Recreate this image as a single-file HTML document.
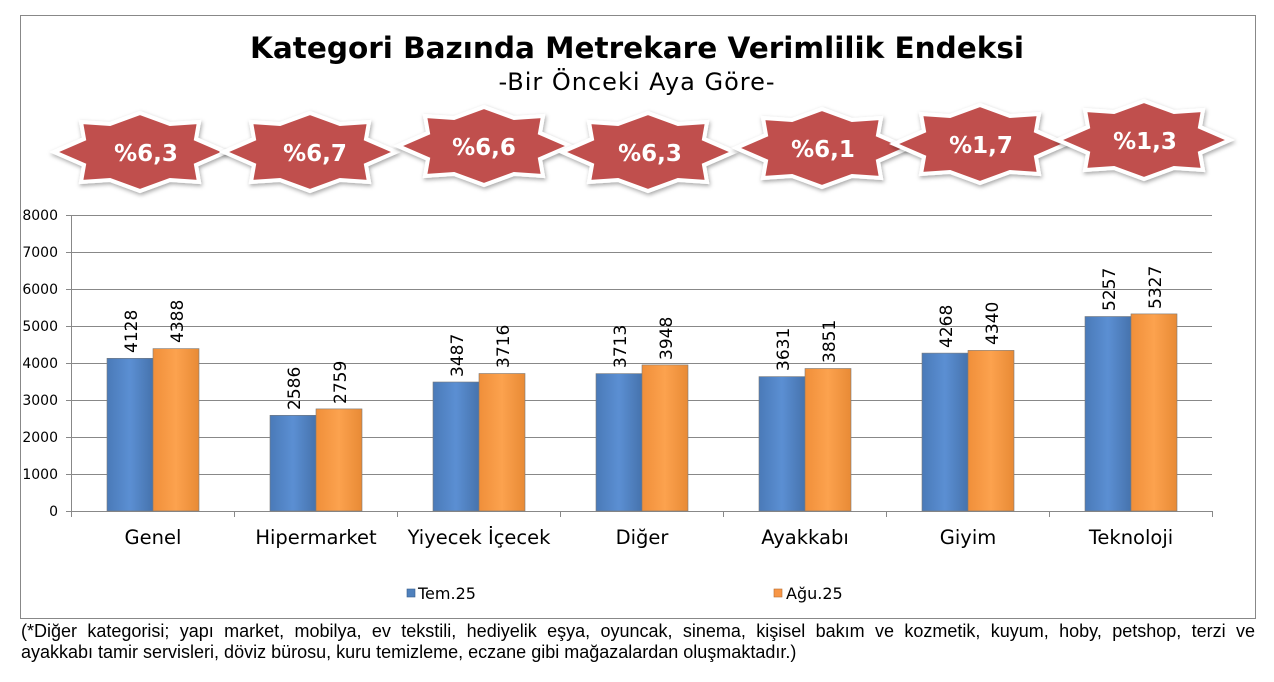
<!DOCTYPE html>
<html><head><meta charset="utf-8"><style>
body{margin:0;background:#fff;width:1274px;height:682px;overflow:hidden;}
svg{position:absolute;left:0;top:0;}
.fn{position:absolute;left:21px;width:1234px;font:18px "Liberation Sans",sans-serif;color:#000;line-height:21px;white-space:nowrap;}
.l1{top:621px;text-align:justify;text-align-last:justify;white-space:normal;}
.l2{top:642px;}
</style></head><body>
<svg width="1274" height="682" xmlns="http://www.w3.org/2000/svg" font-family="DejaVu Sans, Liberation Sans, sans-serif">
<defs>
<linearGradient id="gb" x1="0" x2="1"><stop offset="0" stop-color="#4a7ab8"/><stop offset="0.5" stop-color="#5b8fd3"/><stop offset="1" stop-color="#4673ad"/></linearGradient>
<linearGradient id="go" x1="0" x2="1"><stop offset="0" stop-color="#f08f3a"/><stop offset="0.5" stop-color="#fca24e"/><stop offset="1" stop-color="#e88a35"/></linearGradient>
<filter id="sh" x="-20%" y="-30%" width="140%" height="160%"><feDropShadow dx="1" dy="2" stdDeviation="2" flood-color="#000" flood-opacity="0.35"/></filter>
<g id="star"><polygon points="-86,0 -56,-13 -59,-30 -30,-28 0,-39 30,-28 59,-30 56,-13 86,0 56,13 59,30 30,28 0,39 -30,28 -59,30 -56,13" fill="#c0504d" stroke="#fff" stroke-width="4" stroke-linejoin="miter" filter="url(#sh)"/></g>
</defs>
<rect x="20.5" y="15.5" width="1235" height="603" fill="#fff" stroke="#888" stroke-width="1"/>
<text x="637" y="58" text-anchor="middle" font-size="29.5" font-weight="bold" fill="#000">Kategori Bazında Metrekare Verimlilik Endeksi</text>
<text x="637" y="90" text-anchor="middle" font-size="24" letter-spacing="1" fill="#000">-Bir Önceki Aya Göre-</text>
<g font-size="23" font-weight="bold" fill="#fff" text-anchor="middle">
<use href="#star" x="140" y="152"/><text x="146" y="161">%6,3</text>
<use href="#star" x="310" y="152"/><text x="315" y="161">%6,7</text>
<use href="#star" x="484" y="146"/><text x="484" y="155">%6,6</text>
<use href="#star" x="648" y="152"/><text x="650" y="161">%6,3</text>
<use href="#star" x="822" y="148"/><text x="823" y="157">%6,1</text>
<use href="#star" x="980" y="144"/><text x="981" y="153">%1,7</text>
<use href="#star" x="1144" y="140"/><text x="1145" y="149">%1,3</text>
</g>
<g stroke="#888" stroke-width="1">
<line x1="66" y1="215.5" x2="1212" y2="215.5"/><line x1="66" y1="252.5" x2="1212" y2="252.5"/>
<line x1="66" y1="289.5" x2="1212" y2="289.5"/><line x1="66" y1="326.5" x2="1212" y2="326.5"/>
<line x1="66" y1="363.5" x2="1212" y2="363.5"/><line x1="66" y1="400.5" x2="1212" y2="400.5"/>
<line x1="66" y1="437.5" x2="1212" y2="437.5"/><line x1="66" y1="474.5" x2="1212" y2="474.5"/>
<line x1="66" y1="511.5" x2="1212" y2="511.5"/>
<line x1="71.5" y1="215" x2="71.5" y2="517"/>
<line x1="234.5" y1="511" x2="234.5" y2="517"/><line x1="397.5" y1="511" x2="397.5" y2="517"/>
<line x1="560.5" y1="511" x2="560.5" y2="517"/><line x1="723.5" y1="511" x2="723.5" y2="517"/>
<line x1="886.5" y1="511" x2="886.5" y2="517"/><line x1="1049.5" y1="511" x2="1049.5" y2="517"/>
<line x1="1212.5" y1="511" x2="1212.5" y2="517"/>
</g>
<g font-size="14" fill="#000" text-anchor="end">
<text x="58" y="220">8000</text><text x="58" y="257">7000</text><text x="58" y="294">6000</text>
<text x="58" y="331">5000</text><text x="58" y="368">4000</text><text x="58" y="405">3000</text>
<text x="58" y="442">2000</text><text x="58" y="479">1000</text><text x="58" y="516">0</text>
</g>
<g stroke="#7a7a7a" stroke-width="0.6">
<rect x="107" y="358.3" width="46" height="152.7" fill="url(#gb)"/><rect x="153" y="348.6" width="46" height="162.4" fill="url(#go)"/>
<rect x="270" y="415.3" width="46" height="95.7" fill="url(#gb)"/><rect x="316" y="408.9" width="46" height="102.1" fill="url(#go)"/>
<rect x="433" y="382" width="46" height="129" fill="url(#gb)"/><rect x="479" y="373.5" width="46" height="137.5" fill="url(#go)"/>
<rect x="596" y="373.6" width="46" height="137.4" fill="url(#gb)"/><rect x="642" y="364.9" width="46" height="146.1" fill="url(#go)"/>
<rect x="759" y="376.6" width="46" height="134.4" fill="url(#gb)"/><rect x="805" y="368.5" width="46" height="142.5" fill="url(#go)"/>
<rect x="922" y="353.1" width="46" height="157.9" fill="url(#gb)"/><rect x="968" y="350.4" width="46" height="160.6" fill="url(#go)"/>
<rect x="1085" y="316.5" width="46" height="194.5" fill="url(#gb)"/><rect x="1131" y="313.9" width="46" height="197.1" fill="url(#go)"/>
</g>
<g font-size="17" fill="#000">
<text transform="translate(137,353) rotate(-90)">4128</text><text transform="translate(183,343) rotate(-90)">4388</text>
<text transform="translate(300,410) rotate(-90)">2586</text><text transform="translate(346,404) rotate(-90)">2759</text>
<text transform="translate(463,377) rotate(-90)">3487</text><text transform="translate(509,368) rotate(-90)">3716</text>
<text transform="translate(626,368) rotate(-90)">3713</text><text transform="translate(672,360) rotate(-90)">3948</text>
<text transform="translate(789,371) rotate(-90)">3631</text><text transform="translate(835,363) rotate(-90)">3851</text>
<text transform="translate(952,348) rotate(-90)">4268</text><text transform="translate(998,345) rotate(-90)">4340</text>
<text transform="translate(1115,311) rotate(-90)">5257</text><text transform="translate(1161,309) rotate(-90)">5327</text>
</g>
<g font-size="19.5" fill="#000" text-anchor="middle">
<text x="153" y="544">Genel</text><text x="316" y="544">Hipermarket</text><text x="479" y="544">Yiyecek İçecek</text>
<text x="642" y="544">Diğer</text><text x="805" y="544">Ayakkabı</text><text x="968" y="544">Giyim</text><text x="1131" y="544">Teknoloji</text>
</g>
<rect x="407" y="589" width="8" height="8" fill="#4f81bd" stroke="#385d8a" stroke-width="0.6"/>
<text x="418" y="599" font-size="16" fill="#000">Tem.25</text>
<rect x="774" y="589" width="8" height="8" fill="#f79646" stroke="#b66d31" stroke-width="0.6"/>
<text x="786" y="599" font-size="16" fill="#000">Ağu.25</text>
</svg>
<div class="fn l1">(*Diğer kategorisi; yapı market, mobilya, ev tekstili, hediyelik eşya, oyuncak, sinema, kişisel bakım ve kozmetik, kuyum, hoby, petshop, terzi ve</div>
<div class="fn l2">ayakkabı tamir servisleri, döviz bürosu, kuru temizleme, eczane gibi mağazalardan oluşmaktadır.)</div>
</body></html>
